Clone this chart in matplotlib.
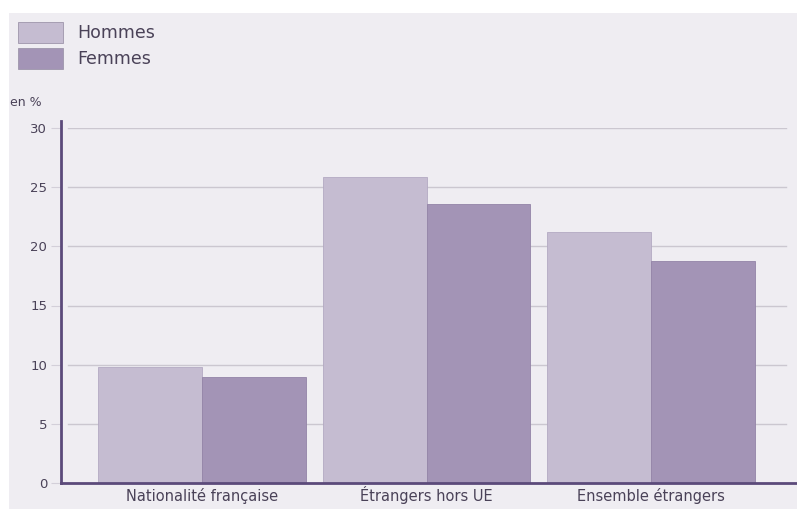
import numpy as np
import matplotlib.pyplot as plt
from matplotlib.patches import Rectangle

categories = ['Nationalité française', 'Étrangers hors UE', 'Ensemble étrangers']
hommes = [9.8, 25.9, 21.2]
femmes = [9.0, 23.6, 18.8]
yticks = [0, 5, 10, 15, 20, 25, 30]

c_h = '#c5bcd1'
c_f = '#a394b6'
c_axis = '#5b4a7a'
c_text = '#4a4258'
bg = '#efedf2'

fig = plt.figure(figsize=(7.97, 5.09), dpi=100)
fig.patch.set_facecolor('white')
fig.patches.append(Rectangle((9 / 797, 0), 1, 1 - 13 / 509, transform=fig.transFigure,
                             facecolor=bg, edgecolor='none', zorder=-10))

W, H = 797, 509
ax = fig.add_axes([61 / W, 1 - 483 / H, (797 - 61) / W, (483 - 128) / H])
ax.set_facecolor(bg)

x = np.arange(len(categories))
w = 0.463
ax.bar(x - w / 2, hommes, w, color=c_h, edgecolor='#b3a9c2', linewidth=0.6, zorder=2)
ax.bar(x + w / 2, femmes, w, color=c_f, edgecolor='#9384a7', linewidth=0.6, zorder=2)

ax.set_xlim(-0.628, 2.65)
ax.set_ylim(0, 30)
ax.set_yticks(yticks)
ax.set_yticklabels([str(t) for t in yticks], color=c_text, fontsize=9.5)
ax.set_xticks(x)
ax.set_xticklabels(categories, color=c_text, fontsize=10.5)
for lab in ax.get_xticklabels():
    lab.set_va('baseline')
ax.tick_params(axis='x', length=0, pad=13)
ax.tick_params(axis='y', length=7, color='#d3cfd9', width=0.8, pad=3)

for t in yticks[1:]:
    ax.axhline(t, xmin=0.01, xmax=0.985, color='#cbc7d0', linewidth=1.0, zorder=1)

for s in ['top', 'right']:
    ax.spines[s].set_visible(False)
ax.spines['left'].set_color(c_axis)
ax.spines['left'].set_linewidth(2)
ax.spines['bottom'].set_color(c_axis)
ax.spines['bottom'].set_linewidth(2)
ax.spines['left'].set_bounds(0, 30.6)

fig.text(10 / W, 1 - 103 / H, 'en %', color=c_text, fontsize=9, va='center', ha='left')

# legend
for i, (lab, col) in enumerate([('Hommes', c_h), ('Femmes', c_f)]):
    y0 = 22 + i * 26
    fig.patches.append(Rectangle((18 / W, 1 - (y0 + 21) / H), 45 / W, 21 / H,
                                 transform=fig.transFigure, facecolor=col,
                                 edgecolor='#9e95ab', linewidth=0.6))
    fig.text(77 / W, 1 - (y0 + 11) / H, lab, color=c_text, fontsize=12.5, va='center', ha='left')

fig.savefig('out.png', dpi=100, facecolor=fig.get_facecolor())
